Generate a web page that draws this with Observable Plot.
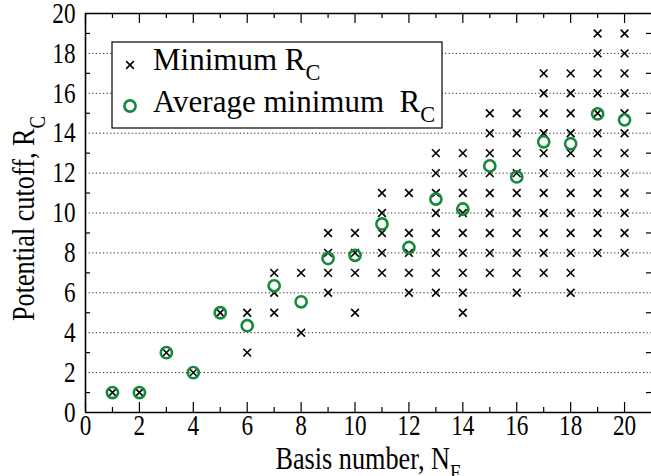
<!DOCTYPE html>
<html>
<head>
<meta charset="utf-8">
<script src="https://cdn.jsdelivr.net/npm/d3@7"></script>
<script src="https://cdn.jsdelivr.net/npm/@observablehq/plot@0.6"></script>
<style>
  html, body { margin: 0; padding: 0; background: white; }
  #chart { position: relative; width: 651px; height: 476px; }
  #chart svg, #chart svg text { font-family: "Liberation Serif", "Times New Roman", Times, "DejaVu Serif", serif; }
</style>
</head>
<body>
<div id="chart"></div>
<script>
// ---- data ----
const basisNumbers = [1, 2, 3, 4, 5, 6, 7, 8, 9, 10, 11, 12, 13, 14, 15, 16, 17, 18, 19, 20];
const minimumRc = [
  [1],
  [1],
  [3],
  [2],
  [5],
  [3, 5],
  [5, 6, 7],
  [4, 7],
  [6, 7, 8, 9],
  [5, 7, 8, 9],
  [7, 8, 9, 10, 11],
  [6, 7, 8, 9, 11],
  [6, 7, 8, 9, 10, 11, 12, 13],
  [5, 6, 7, 8, 9, 10, 11, 12, 13],
  [7, 8, 9, 10, 11, 12, 13, 14, 15],
  [6, 7, 8, 9, 10, 11, 12, 13, 14, 15],
  [7, 8, 9, 10, 11, 12, 13, 14, 15, 16, 17],
  [6, 7, 8, 9, 10, 11, 12, 13, 14, 15, 16, 17],
  [8, 9, 10, 11, 12, 13, 14, 15, 16, 17, 18, 19],
  [8, 9, 10, 11, 12, 13, 14, 15, 16, 17, 18, 19]
];
const averageMinimumRc = [1, 1, 3, 2, 5, 4.35, 6.35, 5.55, 7.72, 7.88, 9.45, 8.27, 10.7, 10.2, 12.36, 11.81, 13.57, 13.47, 14.97, 14.67];

const xTicks = [0, 2, 4, 6, 8, 10, 12, 14, 16, 18, 20];
const xMinorTicks = [1, 3, 5, 7, 9, 11, 13, 15, 17, 19];
const yTicks = [0, 2, 4, 6, 8, 10, 12, 14, 16, 18, 20];
const yMinorTicks = [1, 3, 5, 7, 9, 11, 13, 15, 17, 19];
const yGrid = [2, 4, 6, 8, 10, 12, 14, 16, 18];
const xDomain = [0, 21];
const yDomain = [0, 20];

const xTitle = ["Basis number, N", "F"];
const yTitle = ["Potential cutoff, R", "C"];
const legendLabels = [["Minimum R", "C"], ["Average minimum\u00a0 R", "C"]];

// ---- tables ----
const minPoints = basisNumbers.flatMap((n, i) => minimumRc[i].map(rc => ({n, rc})));
const avgPoints = basisNumbers.map((n, i) => ({n, rc: averageMinimumRc[i]}));

// ---- layout ----
const W = 651, H = 476;
const mL = 85, mR = 0, mT = 13, mB = 64;
const fw = W - mL - mR, fh = H - mT - mB;
const green = "#17893a";
const FONT = '"Liberation Serif", "Times New Roman", Times, "DejaVu Serif", serif';
const SQUEEZE = 0.8;

const chart = Plot.plot({
  width: W, height: H,
  marginLeft: mL, marginRight: mR, marginTop: mT, marginBottom: mB,
  style: {fontSize: "29px", color: "black", background: "white", overflow: "visible"},
  x: {domain: xDomain, ticks: xTicks, tickSize: 0, tickPadding: 2, label: null, tickFormat: d => String(d)},
  y: {domain: yDomain, ticks: yTicks, tickSize: 0, tickPadding: 10, label: null, tickFormat: d => String(d)},
  marks: [
    Plot.ruleY(yGrid, {y: d => d, stroke: "#222", strokeWidth: 1, strokeDasharray: "1.2,2.4"}),
    // ticks (inward)
    Plot.ruleX(xTicks, {x: d => d, insetTop: fh - 10, stroke: "black", strokeWidth: 1.2}),
    Plot.ruleX(xMinorTicks, {x: d => d, insetTop: fh - 5, stroke: "black", strokeWidth: 1.2}),
    Plot.ruleX(xTicks, {x: d => d, insetBottom: fh - 10, stroke: "black", strokeWidth: 1.2}),
    Plot.ruleX(xMinorTicks, {x: d => d, insetBottom: fh - 5, stroke: "black", strokeWidth: 1.2}),
    Plot.ruleY(yMinorTicks, {y: d => d, insetRight: fw - 5, stroke: "black", strokeWidth: 1.2}),
    Plot.ruleY(yMinorTicks, {y: d => d, insetLeft: fw - 5, stroke: "black", strokeWidth: 1.2}),
    // frame spines
    Plot.ruleX([xDomain[0]], {stroke: "black", strokeWidth: 1.6}),
    Plot.ruleY([yDomain[0]], {stroke: "black", strokeWidth: 1.6}),
    Plot.ruleY([yDomain[1]], {stroke: "black", strokeWidth: 1.6}),
    // data
    Plot.dot(minPoints, {x: "n", y: "rc", symbol: "times", r: 3.6, stroke: "black", strokeWidth: 1.6, fill: "none"}),
    Plot.dot(avgPoints, {x: "n", y: "rc", r: 5.6, stroke: green, strokeWidth: 2.6, fill: "none"})
  ]
});

document.getElementById("chart").appendChild(chart);
const svg = d3.select(chart);
svg.attr("font-family", FONT);

function squeeze(el, s) {
  const x = parseFloat(el.getAttribute("x")) || 0;
  const t = el.getAttribute("transform") || "";
  el.setAttribute("transform", `${t} translate(${x},0) scale(${s},1) translate(${-x},0)`);
}
svg.selectAll("text").each(function () { squeeze(this, SQUEEZE); });

function subText(g, parts, attrs, size) {
  const t = g.append("text")
    .attr("font-family", FONT)
    .attr("font-size", size)
    .attr("fill", "black");
  for (const k in attrs) t.attr(k, attrs[k]);
  t.append("tspan").text(parts[0]);
  t.append("tspan").attr("font-size", size * 0.72).attr("dy", size * 0.33).text(parts[1]);
  return t;
}

// axis titles
const xt = subText(svg, xTitle, {"text-anchor": "middle", x: mL + fw / 2, y: 469}, 32);
squeeze(xt.node(), 0.82);
const yt = subText(svg, yTitle, {"text-anchor": "middle", x: 0, y: 0, transform: `translate(34,${mT + fh / 2 + 6}) rotate(-90)`}, 32);
squeeze(yt.node(), 0.82);

// legend
const lg = svg.append("g");
lg.append("rect").attr("x", 112).attr("y", 42).attr("width", 330).attr("height", 86)
  .attr("fill", "white").attr("stroke", "black").attr("stroke-width", 1.2);
lg.append("path").attr("transform", "translate(130,65)")
  .attr("d", d3.symbol(d3.symbolTimes, 40)()).attr("stroke", "black").attr("stroke-width", 1.6).attr("fill", "none");
lg.append("circle").attr("cx", 130).attr("cy", 106).attr("r", 5.6)
  .attr("stroke", green).attr("stroke-width", 2.6).attr("fill", "none");
subText(lg, legendLabels[0], {"text-anchor": "start", x: 153, y: 70}, 31);
subText(lg, legendLabels[1], {"text-anchor": "start", x: 153, y: 112}, 31);
</script>
</body>
</html>
